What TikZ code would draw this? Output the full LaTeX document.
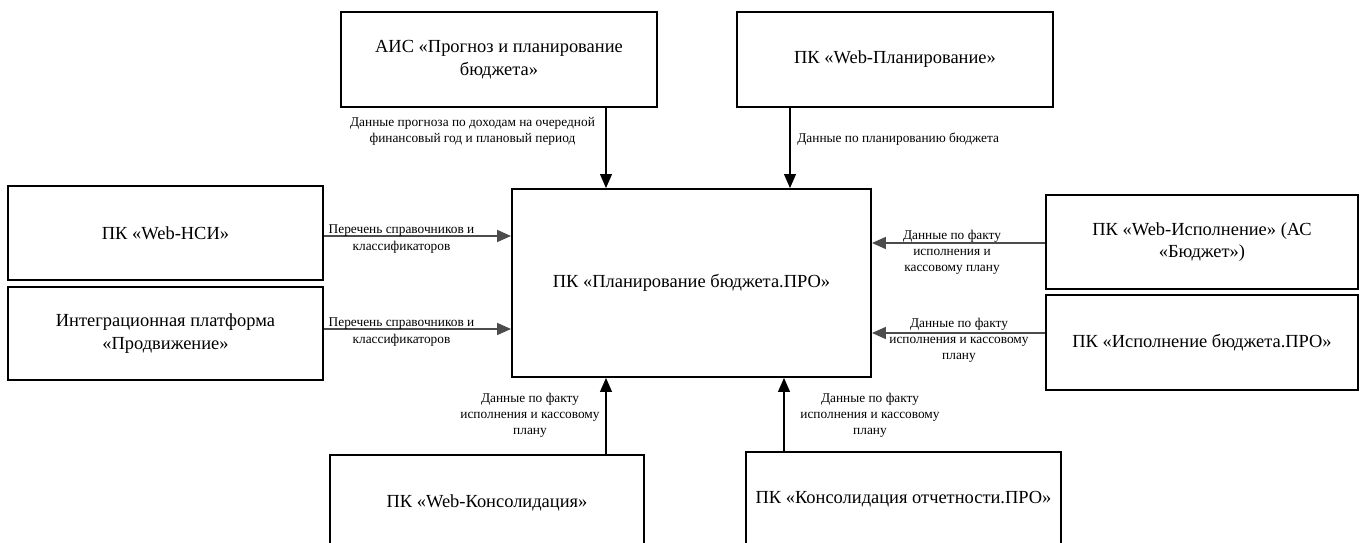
\documentclass[tikz,border=0pt]{standalone}
\usepackage{fontspec}
\setmainfont{Liberation Serif}
\usetikzlibrary{arrows.meta, positioning, calc}
\tikzset{
	block/.style={rectangle, draw, line width=1.1pt, align=center, font=\fontsize{10.5}{13}\selectfont},
	line/.style={draw, line width=0.6pt, -{Triangle[length=2.8mm, width=2.4mm]}},
	hline/.style={line, line width=1pt, draw=black!70},
	lbl/.style={align=center, inner sep=0pt, font=\fontsize{7.6}{9.2}\selectfont}
}

\begin{document}
\begin{tikzpicture}
	\clip (0,0) rectangle (27.3,10.86);
	\useasboundingbox (0,0) rectangle (27.3,10.86);

	% Central block
	\node[block, minimum width=7.18cm, minimum height=3.76cm] (plan) at (13.83,5.20) {ПК «Планирование бюджета.ПРО»};

	% Top blocks
	\node[block, minimum width=6.32cm, minimum height=1.9cm] (ais) at (9.98,9.67) {АИС «Прогноз и планирование\\бюджета»};
	\node[block, minimum width=6.32cm, minimum height=1.9cm] (webplan) at (17.90,9.67) {ПК «Web-Планирование»};

	% Left blocks
	\node[block, minimum width=6.3cm, minimum height=1.88cm] (nsi) at (3.31,6.20) {ПК «Web-НСИ»};
	\node[block, minimum width=6.3cm, minimum height=1.86cm] (integr) at (3.31,4.19) {Интеграционная платформа\\«Продвижение»};

	% Right blocks
	\node[block, minimum width=6.24cm, minimum height=1.88cm] (webisp) at (24.04,6.02) {ПК «Web-Исполнение» (АС\\«Бюджет»)};
	\node[block, minimum width=6.24cm, minimum height=1.9cm] (isp) at (24.04,4.01) {ПК «Исполнение бюджета.ПРО»};

	% Bottom blocks (cut by the page edge)
	\node[block, minimum width=6.28cm, minimum height=1.9cm] (webkons) at (9.74,0.81) {ПК «Web-Консолидация»};
	\node[block, minimum width=6.3cm, minimum height=1.9cm] (kons) at (18.07,0.87) {ПК «Консолидация отчетности.ПРО»};

	% Arrow positions on the central block
	\coordinate (xa) at (12.12,0);
	\coordinate (xb) at (15.80,0);
	\coordinate (xc) at (15.68,0);
	\coordinate (ya) at (0,6.14);
	\coordinate (yb) at (0,4.28);
	\coordinate (yc) at (0,6.00);
	\coordinate (yd) at (0,4.20);

	% Connectors
	\draw[line] (ais.south -| xa) -- (plan.north -| xa);
	\draw[line] (webplan.south -| xb) -- (plan.north -| xb);
	\draw[hline] (nsi.east |- ya) -- (plan.west |- ya);
	\draw[hline] (integr.east |- yb) -- (plan.west |- yb);
	\draw[hline] (webisp.west |- yc) -- (plan.east |- yc);
	\draw[hline] (isp.west |- yd) -- (plan.east |- yd);
	\draw[line] (webkons.north -| xa) -- (plan.south -| xa);
	\draw[line] (kons.north -| xc) -- (plan.south -| xc);

	% Labels
	\node[lbl] (lais) at (9.45,8.23) {Данные прогноза по доходам на очередной\\финансовый год и плановый период};
	\node[lbl, anchor=west] (lplan) at (15.94,8.08) {Данные по планированию бюджета};
	\node[lbl] (lnsi) at (8.03,6.08) {Перечень справочников и\\классификаторов};
	\node[lbl] (lint) at (8.03,4.22) {Перечень справочников и\\классификаторов};
	\node[lbl] (lwisp) at (19.04,5.81) {Данные по факту\\исполнения и\\кассовому плану};
	\node[lbl] (lisp) at (19.18,4.06) {Данные по факту\\исполнения и кассовому\\плану};
	\node[lbl] (lwk) at (10.60,2.55) {Данные по факту\\исполнения и кассовому\\плану};
	\node[lbl] (lk) at (17.40,2.55) {Данные по факту\\исполнения и кассовому\\плану};
\end{tikzpicture}
\end{document}
